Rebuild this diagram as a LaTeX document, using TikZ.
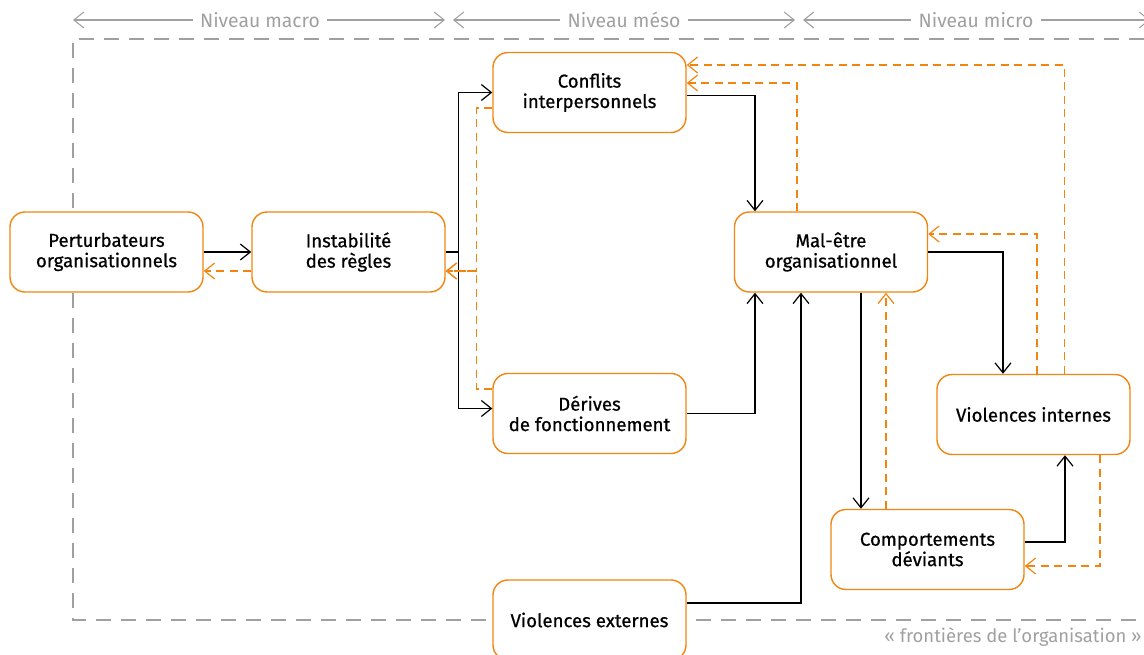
\documentclass[tikz,border=0pt]{standalone}
\usepackage{fontspec}
\setmainfont{Fira Sans}
\newfontfamily\medfont{Fira Sans}[FakeBold=0.7]
\usetikzlibrary{arrows.meta,calc}
\definecolor{orga}{RGB}{240,134,16}
\definecolor{grisc}{RGB}{160,160,160}
\begin{document}
\begin{tikzpicture}[x=0.2mm, y=-0.2mm, >={Straight Barb[length=2mm,width=3.2mm]},
    box/.style={draw=orga, line width=0.8pt, fill=white, rounded corners=3mm, minimum width=38.6mm, minimum height=16mm, align=center, font=\medfont\fontsize{10.6}{11.6}\selectfont},
    link/.style={->, line width=0.7pt},
    back/.style={->, orga, dash pattern=on 1.6mm off 1.1mm, line width=0.7pt},
    level/.style={->, grisc, line width=0.6pt},
    lvl/.style={grisc, inner xsep=1.4mm, font=\fontsize{11}{12}\selectfont}]
    \useasboundingbox (0,0) rectangle (1144,655);
    \draw[grisc, line width=0.7pt, dash pattern=on 3mm off 2mm] (1144,39) -| (73,620) -- (1144,620);
    \node[lvl] (macro) at (260,20) {Niveau macro};
    \node[lvl] (meso) at (624,20) {Niveau méso};
    \node[lvl] (micro) at (976,20) {Niveau micro};
    \draw[level] (macro.west) -- (73,20);
    \draw[level] (macro.east) -- (445,20);
    \draw[level] (meso.west) -- (453,20);
    \draw[level] (meso.east) -- (795,20);
    \draw[level] (micro.west) -- (803,20);
    \draw[level] (micro.east) -- (1150,20);
    \node[lvl, anchor=east, inner xsep=0pt, font=\fontsize{10.5}{12}\selectfont] (front) at (1142,637) {« frontières de l’organisation »};
    \node[box] (pert) at (106.5,252) {Perturbateurs\\organisationnels};
    \node[box] (inst) at (348.5,252) {Instabilité\\des règles};
    \node[box] (conf) at (589.5,92.5) {Conflits\\interpersonnels};
    \node[box] (deri) at (589.5,413.5) {Dérives\\de fonctionnement};
    \node[box] (vext) at (589.5,620) {Violences externes};
    \node[box] (male) at (831,252) {Mal-être\\organisationnel};
    \node[box] (vint) at (1033.5,414.5) {Violences internes};
    \node[box] (comp) at (927.5,549.5) {Comportements\\déviants};
    \draw[link] (pert.east) -- (inst.west);
    \draw[back] ($(inst.west)+(0,19)$) -- ($(pert.east)+(0,19)$);
    \draw[link] (inst.east) -- ++(13,0) coordinate (fork) |- (conf.west);
    \draw[link] (fork) |- ($(deri.west)+(0,-5)$);
    \draw[back] ($(conf.west)+(0,15.5)$) -| ($(inst.east)+(31,19)$) -- ($(inst.east)+(0,19)$);
    \draw[back] ($(deri.west)+(0,-24.5)$) -| ($(inst.east)+(31,19)$) -- ($(inst.east)+(0,19)$);
    \draw[link] ($(conf.east)+(0,3)$) -| ($(male.north)+(-76,0)$);
    \draw[back] ($(male.north)+(-34,0)$) |- ($(conf.east)+(0,-9.5)$);
    \draw[back] ($(vint.north)+(31,0)$) |- ($(conf.east)+(0,-27.5)$);
    \draw[link] (deri.east) -| ($(male.south)+(-76,0)$);
    \draw[link] ($(vext.east)+(0,-17)$) -| ($(male.south)+(-30,0)$);
    \draw[link] ($(male.south)+(30,0)$) -- ($(comp.north)+(-66.5,0)$);
    \draw[back] ($(comp.north)+(-41.5,0)$) -- ($(male.south)+(55,0)$);
    \draw[link] (male.east) -| ($(vint.north)+(-30.5,0)$);
    \draw[back] ($(vint.north)+(3.5,0)$) |- ($(male.east)+(0,-18)$);
    \draw[link] ($(comp.east)+(0,-7.5)$) -| ($(vint.south)+(31.5,0)$);
    \draw[back] ($(vint.south)+(66.5,0)$) |- ($(comp.east)+(0,16.5)$);
\end{tikzpicture}
\end{document}
